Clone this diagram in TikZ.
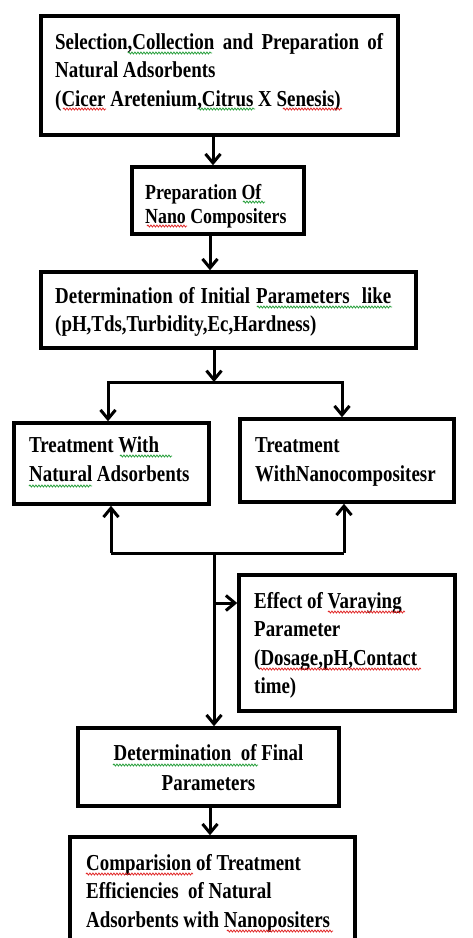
\documentclass[tikz,border=0pt]{standalone}
\usepackage{fontspec}
\newfontfamily\dfont{Liberation Serif}[FakeStretch=0.83]
\usetikzlibrary{arrows.meta,decorations.pathmorphing}
\definecolor{sqred}{RGB}{225,40,40}
\definecolor{sqgreen}{RGB}{40,160,60}
\tikzset{
  box/.style={draw, line width=3.5pt, inner sep=0pt, fill=white},
  txt/.style={inner sep=0pt, anchor=base west, font=\dfont\bfseries\fontsize{22.8}{28.5}\selectfont},
  txtc/.style={inner sep=0pt, anchor=base, font=\dfont\bfseries\fontsize{22.8}{30}\selectfont},
  arr/.style={line width=3pt, -{Straight Barb[length=9pt,width=15pt,line width=3pt]}},
  ln/.style={line width=3pt},
  sqr/.style={draw=sqred, line width=0.8pt, decorate, decoration={snake, amplitude=1pt, segment length=3pt}},
  sqg/.style={draw=sqgreen, line width=0.8pt, decorate, decoration={snake, amplitude=1pt, segment length=3pt}}
}
\begin{document}
\begin{tikzpicture}[x=1pt,y=-1pt]
\useasboundingbox (0,0) rectangle (473,938);
\fill[white] (0,0) rectangle (473,938);
\clip (0,0) rectangle (473,938);
% boxes
\node[box, minimum width=357pt, minimum height=119pt] (b1) at (219.5,75.5) {};
\node[box, minimum width=172pt, minimum height=67pt] (b2) at (218,200.5) {};
\node[box, minimum width=375pt, minimum height=76pt] (b3) at (228.5,310) {};
\node[box, minimum width=195pt, minimum height=81pt] (b4) at (111.5,463.5) {};
\node[box, minimum width=214pt, minimum height=83pt] (b5) at (347,460.5) {};
\node[box, minimum width=216pt, minimum height=136pt] (b6) at (347,643) {};
\node[box, minimum width=261pt, minimum height=78pt] (b7) at (208.5,767) {};
\node[box, minimum width=285pt, minimum height=123pt] (b8) at (212.5,898.5) {};
% texts
\node[txt] (t1) at (55,49) {\parbox[t]{340pt}{\makebox[328pt][s]{Selection,Collection and Preparation of}\\Natural Adsorbents\\(Cicer Aretenium,Citrus X Senesis)}};
\node[txt, font=\dfont\bfseries\fontsize{21.5}{24}\selectfont] (t2) at (145,199) {\parbox[t]{160pt}{Preparation Of\\Nano Compositers}};
\node[txt] (t3) at (55,303) {\parbox[t]{350pt}{\makebox[336pt][s]{Determination of Initial Parameters\ \ like}\\(pH,Tds,Turbidity,Ec,Hardness)}};
\node[txt, font=\dfont\bfseries\fontsize{22.8}{29}\selectfont] (t4) at (29,452) {\parbox[t]{180pt}{Treatment With\\Natural Adsorbents}};
\node[txt, font=\dfont\bfseries\fontsize{22.8}{29}\selectfont] (t5) at (255,452) {\parbox[t]{200pt}{Treatment\\WithNanocompositesr}};
\node[txt] (t6) at (254,608) {\parbox[t]{200pt}{Effect of Varaying\\Parameter\\(Dosage,pH,Contact\\time)}};
\node[txtc] (t7) at (208.5,760) {\parbox[t]{250pt}{\centering Determination\ \ of Final\\Parameters}};
\node[txt] (t8) at (86,870) {\parbox[t]{270pt}{Comparision of Treatment\\Efficiencies\ \ of Natural\\Adsorbents with Nanopositers}};
% spell-check squiggles
\draw[sqg] (128,53) -- (212,53);
\draw[sqr] (63,109) -- (106,109);
\draw[sqg] (198,109) -- (255,109);
\draw[sqr] (283,109) -- (342,109);
\draw[sqg] (243,202) -- (265,202);
\draw[sqr] (147,226) -- (187,226);
\draw[sqg] (257,307) -- (392,307);
\draw[sqg] (120,456) -- (172,456);
\draw[sqg] (29,486) -- (92,486);
\draw[sqr] (328,612) -- (405,612);
\draw[sqr] (260,669) -- (421,669);
\draw[sqg] (113,765) -- (258,765);
\draw[sqr] (86,874) -- (193,874);
\draw[sqr] (227,931) -- (333,931);
% connector points
\coordinate (j1) at (214,382);
\coordinate (jl) at (108,382);
\coordinate (jr) at (342,382);
\coordinate (k1) at (214,553);
\coordinate (kl) at (111,553);
\coordinate (kr) at (344,553);
\coordinate (ke) at (214,603);
% arrows
\draw[arr] (b1.south -| 213,0) -- (b2.north -| 213,0);
\draw[arr] (b2.south -| 210,0) -- (b3.north -| 210,0);
\draw[arr] (b3.south -| j1) -- (j1);
\draw[ln] ([yshift=-4pt]jl) -- (jl) -- (jr) -- ([yshift=-4pt]jr);
\draw[arr] (jl) -- (b4.north -| jl);
\draw[arr] (jr) -- (b5.north -| jr);
\draw[ln] (kl) -- (kr);
\draw[arr] (kl) -- (b4.south -| kl);
\draw[arr] (kr) -- (b5.south -| kr);
\draw[arr] (k1) -- (b7.north -| k1);
\draw[arr] (ke) -- (b6.west |- ke);
\draw[arr] (b7.south -| 210,0) -- (b8.north -| 210,0);
\end{tikzpicture}
\end{document}
